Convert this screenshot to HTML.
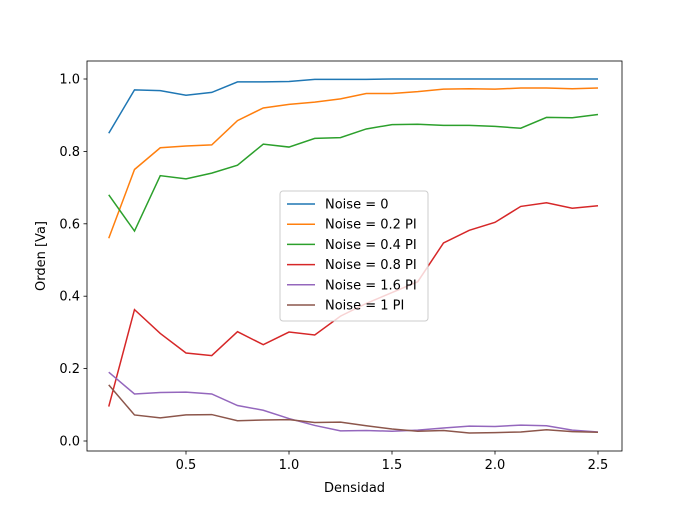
<!DOCTYPE html>
<html><head><meta charset="utf-8"><style>
body{margin:0;background:#fff;}
svg text{font-family:"DejaVu Sans","Liberation Sans",sans-serif;font-size:13px;fill:#000;}
</style></head><body>
<svg id="chart" width="691" height="507" xmlns="http://www.w3.org/2000/svg">
<rect x="0" y="0" width="691" height="507" fill="#fff"/>
<g id="plot"></g>
</svg>
<script>
const xs=[0.125,0.25,0.375,0.5,0.625,0.75,0.875,1.0,1.125,1.25,1.375,1.5,1.625,1.75,1.875,2.0,2.125,2.25,2.375,2.5];
const seriesNames=["Noise = 0","Noise = 0.2 PI","Noise = 0.4 PI","Noise = 0.8 PI","Noise = 1.6 PI","Noise = 1 PI"];
const seriesColors=["#1f77b4","#ff7f0e","#2ca02c","#d62728","#9467bd","#8c564b"];
const s0=[0.85,0.97,0.968,0.955,0.963,0.992,0.992,0.993,0.999,0.999,0.999,1,1,1,1,1,1,1,1,1];
const s1=[0.56,0.75,0.81,0.815,0.818,0.885,0.92,0.93,0.936,0.945,0.96,0.96,0.965,0.972,0.973,0.972,0.975,0.975,0.973,0.975];
const s2=[0.68,0.58,0.733,0.724,0.74,0.762,0.82,0.812,0.836,0.838,0.862,0.874,0.875,0.872,0.872,0.869,0.864,0.894,0.893,0.902];
const s3=[0.095,0.363,0.297,0.243,0.236,0.302,0.266,0.301,0.293,0.345,0.38,0.41,0.44,0.547,0.582,0.604,0.648,0.658,0.643,0.65];
const s4=[0.19,0.13,0.134,0.135,0.13,0.098,0.085,0.062,0.043,0.028,0.029,0.027,0.03,0.036,0.041,0.04,0.044,0.042,0.03,0.025];
const s5=[0.155,0.072,0.064,0.072,0.073,0.056,0.058,0.059,0.051,0.052,0.042,0.033,0.027,0.029,0.022,0.023,0.025,0.031,0.026,0.024];
const xTicks=[0.5,1.0,1.5,2.0,2.5];
const xTickLabels=["0.5","1.0","1.5","2.0","2.5"];
const yTicks=[0,0.2,0.4,0.6,0.8,1.0];
const yTickLabels=["0.0","0.2","0.4","0.6","0.8","1.0"];
const allSeries=[s0,s1,s2,s3,s4,s5];
const L=87,R=622,T=61,B=451;
const X=v=>186+(v-0.5)*206;
const Y=v=>441-v*362;
const NS="http://www.w3.org/2000/svg";
const g=document.getElementById('plot');
function mk(t,a){const e=document.createElementNS(NS,t);for(const k in a)e.setAttribute(k,a[k]);g.appendChild(e);return e;}
allSeries.forEach((s,i)=>{
 const p=mk('polyline',{points:s.map((v,j)=>X(xs[j])+','+Y(v)).join(' '),fill:'none',stroke:seriesColors[i],'stroke-width':1.5});
 
 
});
const frame=mk('rect',{x:L,y:T,width:R-L,height:B-T,fill:'none',stroke:'#000','stroke-width':0.8});


xTicks.forEach((v,i)=>{
 mk('line',{x1:X(v),x2:X(v),y1:B,y2:B+3.5,stroke:'#000','stroke-width':0.8});
 const t=mk('text',{x:X(v),y:B+18,'text-anchor':'middle'});t.textContent=xTickLabels[i];
 
 
});
yTicks.forEach((v,i)=>{
 mk('line',{x1:L-3.5,x2:L,y1:Y(v),y2:Y(v),stroke:'#000','stroke-width':0.8});
 const t=mk('text',{x:L-7,y:Y(v)+4.5,'text-anchor':'end'});t.textContent=yTickLabels[i];
 
 
});
const xt=mk('text',{x:(L+R)/2,y:492,'text-anchor':'middle'});xt.textContent='Densidad';


const yt=mk('text',{x:0,y:0,'text-anchor':'middle',transform:'translate(45,256) rotate(-90)'});yt.textContent='Orden [Va]';


const lg=mk('rect',{x:280,y:191,width:148,height:130,rx:3,fill:'#fff','fill-opacity':0.8,stroke:'#ccc'});


seriesNames.forEach((n,i)=>{
 const y=204+i*20.2;
 mk('line',{x1:287,x2:315,y1:y,y2:y,stroke:seriesColors[i],'stroke-width':1.5});
 const t=mk('text',{x:325,y:y+4.5});t.textContent=n;
 
 
});
</script>
</body></html>
